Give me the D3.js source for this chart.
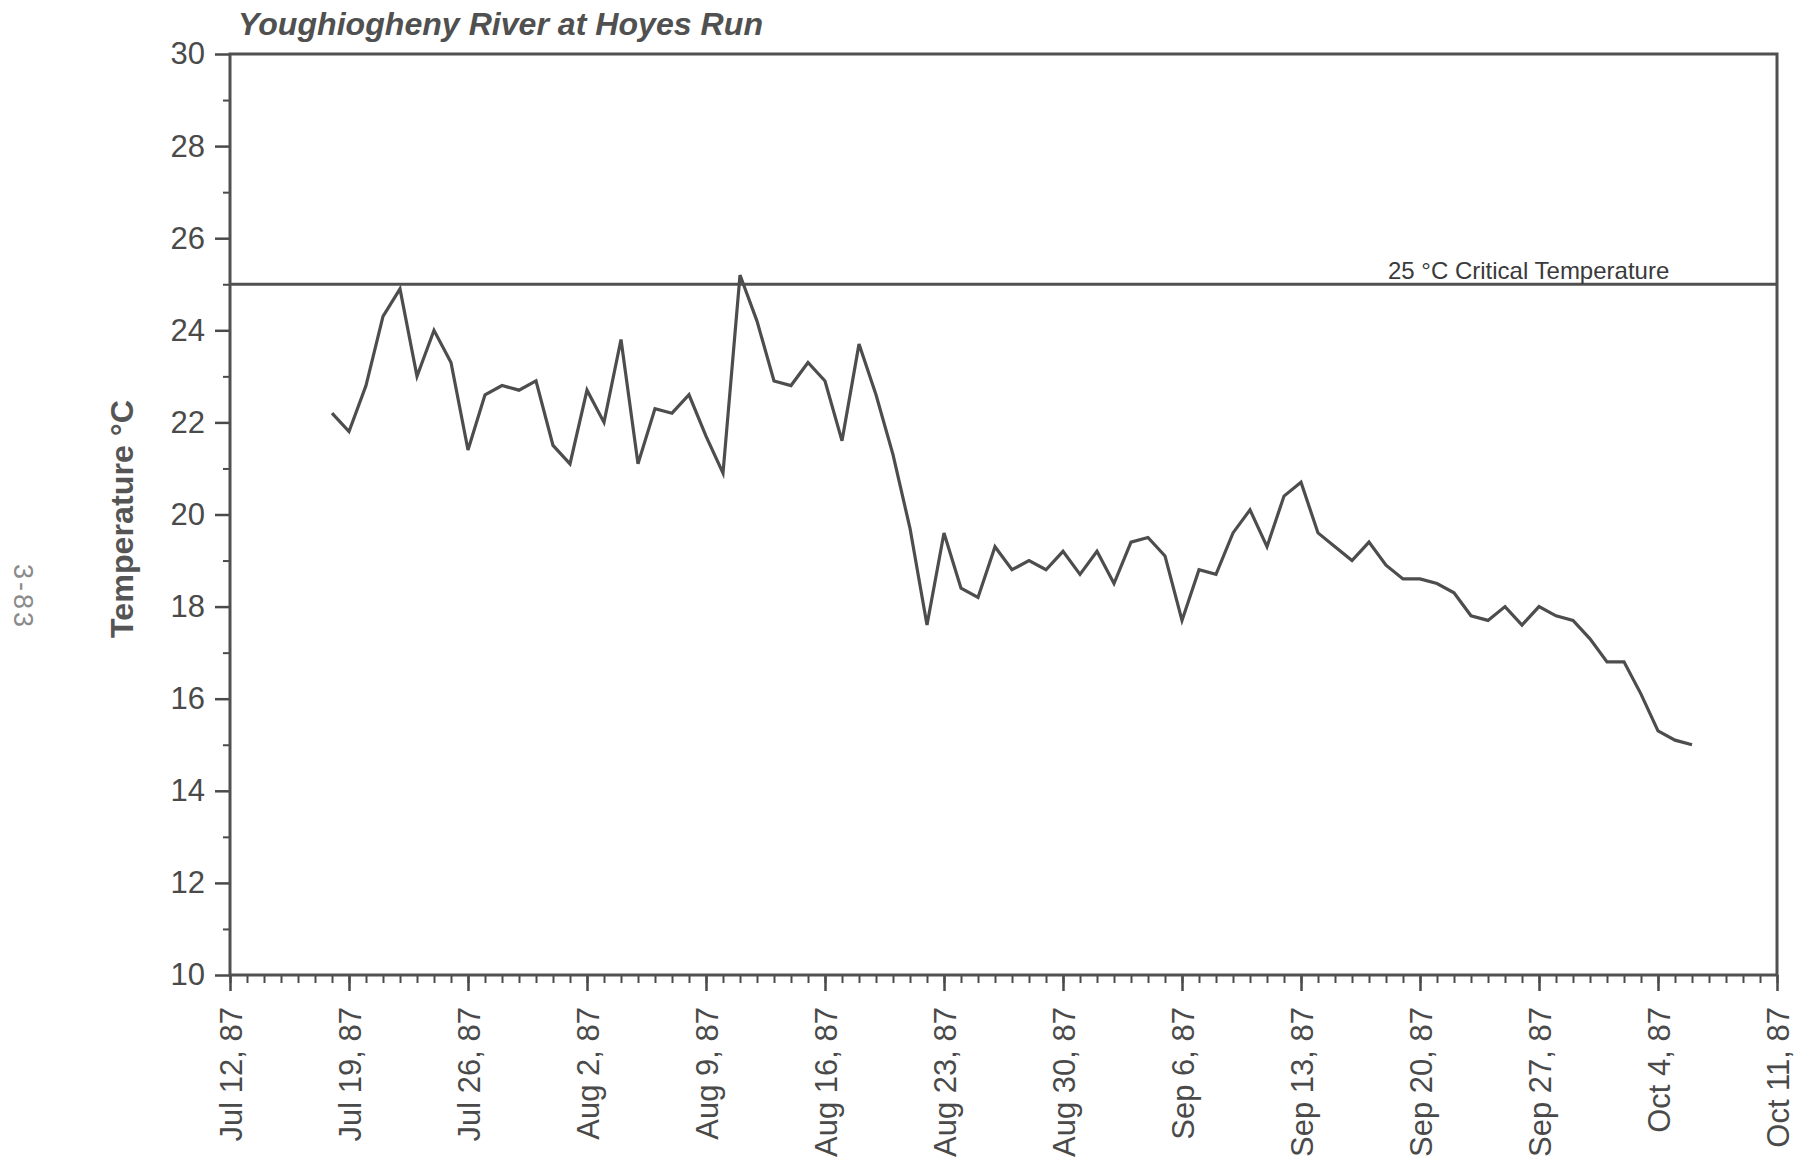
<!DOCTYPE html>
<html>
<head>
<meta charset="utf-8">
<title>Youghiogheny River at Hoyes Run</title>
<script src="https://cdn.jsdelivr.net/npm/d3@7/dist/d3.min.js"></script>
<style>
  html, body { margin: 0; padding: 0; background: #ffffff; }
  svg { display: block; }
  text { font-family: "Liberation Sans", Arial, Helvetica, sans-serif; }
</style>
</head>
<body>
<svg id="chart" width="1803" height="1161"></svg>
<script>
// Daily water temperature (°C), one reading per day starting Jul 18, 1987
const firstDay = "1987-07-18";
const temperatures = [
  22.2, 21.8, 22.8, 24.3, 24.9, 23.0, 24.0, 23.3, 21.4, 22.6,
  22.8, 22.7, 22.9, 21.5, 21.1, 22.7, 22.0, 23.8, 21.1, 22.3,
  22.2, 22.6, 21.7, 20.9, 25.2, 24.2, 22.9, 22.8, 23.3, 22.9,
  21.6, 23.7, 22.6, 21.3, 19.7, 17.6, 19.6, 18.4, 18.2, 19.3,
  18.8, 19.0, 18.8, 19.2, 18.7, 19.2, 18.5, 19.4, 19.5, 19.1,
  17.7, 18.8, 18.7, 19.6, 20.1, 19.3, 20.4, 20.7, 19.6, 19.3,
  19.0, 19.4, 18.9, 18.6, 18.6, 18.5, 18.3, 17.8, 17.7, 18.0,
  17.6, 18.0, 17.8, 17.7, 17.3, 16.8, 16.8, 16.1, 15.3, 15.1,
  15.0
];

// Weekly date ticks along the bottom axis
const xTickLabels = [
  "Jul 12, 87", "Jul 19, 87", "Jul 26, 87", "Aug 2, 87", "Aug 9, 87",
  "Aug 16, 87", "Aug 23, 87", "Aug 30, 87", "Sep 6, 87", "Sep 13, 87",
  "Sep 20, 87", "Sep 27, 87", "Oct 4, 87", "Oct 11, 87"
];
const yTickValues = [10, 12, 14, 16, 18, 20, 22, 24, 26, 28, 30];
const yMinorValues = [11, 13, 15, 17, 19, 21, 23, 25, 27, 29];

const criticalTemp = 25;
const titleText = "Youghiogheny River at Hoyes Run";
const yTitle = "Temperature °C";
const criticalLabel = "25 °C Critical Temperature";
const pageNumber = "3-83";

const parseTick = d3.utcParse("%b %d, %y");
const tickDates = xTickLabels.map(parseTick);
const start = d3.utcParse("%Y-%m-%d")(firstDay);
const series = temperatures.map((v, i) => ({ date: d3.utcDay.offset(start, i), value: v }));

const plotLeft = 230, plotRight = 1777, plotTop = 54, plotBottom = 975;
const ink = "#4a4a4a";

const svg = d3.select("#chart");

const x = d3.scaleUtc()
  .domain([tickDates[0], tickDates[tickDates.length - 1]])
  .range([plotLeft, plotRight]);
const y = d3.scaleLinear().domain([10, 30]).range([plotBottom, plotTop]);

// Title
svg.append("text")
  .attr("x", 238).attr("y", 35)
  .attr("font-size", 31).attr("font-weight", "bold").attr("font-style", "italic")
  .attr("fill", "#505050")
  .attr("textLength", 525).attr("lengthAdjust", "spacingAndGlyphs")
  .text(titleText);

// Page number printed sideways in the margin
svg.append("text")
  .attr("transform", `translate(14,597) rotate(90)`)
  .attr("text-anchor", "middle")
  .attr("font-size", 27).attr("fill", "#8a8a8a")
  .attr("letter-spacing", 3)
  .text(pageNumber);

// Y axis title
svg.append("text")
  .attr("transform", `translate(133,519) rotate(-90)`)
  .attr("text-anchor", "middle")
  .attr("font-size", 31).attr("font-weight", "bold").attr("fill", "#555555")
  .attr("textLength", 238).attr("lengthAdjust", "spacingAndGlyphs")
  .text(yTitle);

// Left axis: major ticks with labels, minor ticks between
const yAxis = svg.append("g").attr("transform", `translate(${plotLeft},0)`)
  .call(d3.axisLeft(y).tickValues(yTickValues).tickSize(15).tickPadding(10).tickFormat(d3.format("d")));
yAxis.select(".domain").remove();
yAxis.selectAll(".tick line").attr("stroke", ink).attr("stroke-width", 2.5);
yAxis.selectAll(".tick text")
  .attr("font-size", 31).attr("fill", ink)
  .attr("font-family", "Liberation Sans, Arial, sans-serif");

const yMinor = svg.append("g").attr("transform", `translate(${plotLeft},0)`)
  .call(d3.axisLeft(y).tickValues(yMinorValues).tickSize(7).tickFormat(""));
yMinor.select(".domain").remove();
yMinor.selectAll(".tick line").attr("stroke", ink).attr("stroke-width", 2);

// Bottom axis: daily minor ticks and weekly labelled ticks
const dailyTicks = d3.utcDay.range(tickDates[0], d3.utcDay.offset(tickDates[tickDates.length - 1], 1));
const xMinor = svg.append("g").attr("transform", `translate(0,${plotBottom})`)
  .call(d3.axisBottom(x).tickValues(dailyTicks).tickSize(8).tickFormat(""));
xMinor.select(".domain").remove();
xMinor.selectAll(".tick line").attr("stroke", ink).attr("stroke-width", 2);

const labelByTime = new Map(tickDates.map((d, i) => [+d, xTickLabels[i]]));
const xAxis = svg.append("g").attr("transform", `translate(0,${plotBottom})`)
  .call(d3.axisBottom(x).tickValues(tickDates).tickSize(16).tickFormat(d => labelByTime.get(+d)));
xAxis.select(".domain").remove();
xAxis.selectAll(".tick line").attr("stroke", ink).attr("stroke-width", 2.5);
xAxis.selectAll(".tick text")
  .attr("font-size", 31).attr("fill", ink)
  .attr("font-family", "Liberation Sans, Arial, sans-serif")
  .attr("text-anchor", "end")
  .attr("transform", "rotate(-90)")
  .attr("x", -32).attr("y", 0).attr("dy", "0.36em");

// Plot frame
svg.append("rect")
  .attr("x", plotLeft).attr("y", plotTop)
  .attr("width", plotRight - plotLeft).attr("height", plotBottom - plotTop)
  .attr("fill", "none").attr("stroke", "#505050").attr("stroke-width", 3);

// Critical temperature reference line and its label
svg.append("line")
  .attr("x1", plotLeft).attr("x2", plotRight)
  .attr("y1", y(criticalTemp)).attr("y2", y(criticalTemp))
  .attr("stroke", "#505050").attr("stroke-width", 3);
svg.append("text")
  .attr("x", 1388).attr("y", y(criticalTemp) - 5)
  .attr("font-size", 24).attr("fill", "#3a3a3a")
  .text(criticalLabel);

// Temperature series
const line = d3.line().x(d => x(d.date)).y(d => y(d.value));
svg.append("path")
  .datum(series)
  .attr("d", line)
  .attr("fill", "none")
  .attr("stroke", "#4d4d4d")
  .attr("stroke-width", 3.2)
  .attr("stroke-linejoin", "miter");
</script>
</body>
</html>
